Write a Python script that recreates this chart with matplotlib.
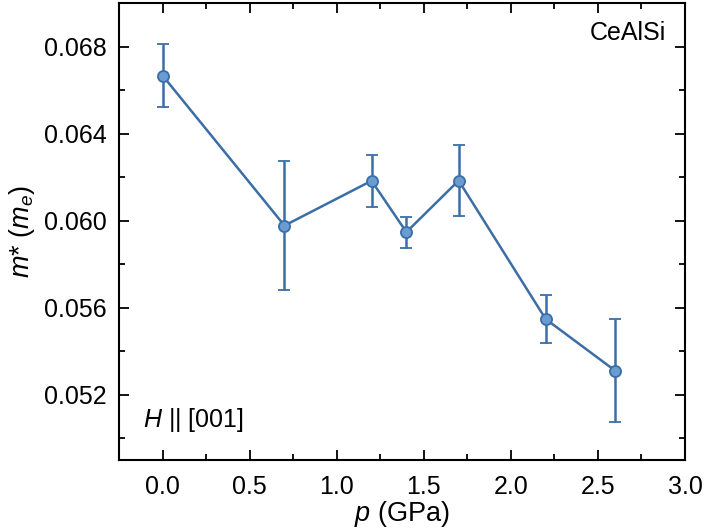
import matplotlib
matplotlib.use("Agg")
import matplotlib.pyplot as plt
from matplotlib.ticker import MultipleLocator

# pressure (GPa) and effective mass (m_e) with error bar ends
p = [0.0, 0.7, 1.2, 1.4, 1.7, 2.2, 2.6]
m_eff = [0.06668, 0.05978, 0.06184, 0.05948, 0.06185, 0.05548, 0.05310]
err_top = [0.06814, 0.06277, 0.06303, 0.06017, 0.06349, 0.05660, 0.05547]
err_bot = [0.06524, 0.05683, 0.06063, 0.05874, 0.06023, 0.05438, 0.05073]

lower = [m - b for m, b in zip(m_eff, err_bot)]
upper = [t - m for m, t in zip(m_eff, err_top)]

plt.rcParams['font.family'] = ['Liberation Sans', 'DejaVu Sans']
plt.rcParams['mathtext.fontset'] = 'custom'
plt.rcParams['mathtext.it'] = 'Liberation Sans:italic'
plt.rcParams['mathtext.rm'] = 'Liberation Sans'

fig = plt.figure(figsize=(7.06, 5.31), dpi=100)
ax = fig.add_axes([0.1686, 0.1337, 0.8017, 0.860])

line_col = "#3b6ea5"
face_col = "#6a9bd2"
ax.errorbar(p, m_eff, yerr=[lower, upper], color=line_col, lw=1.8,
            marker="o", ms=8, mfc=face_col, mec=line_col, mew=1.3,
            capsize=4.5, capthick=1.8, elinewidth=1.8)

ax.set_xlim(-0.25, 3.0)
ax.set_ylim(0.049, 0.070)
ax.xaxis.set_major_locator(MultipleLocator(0.5))
ax.xaxis.set_minor_locator(MultipleLocator(0.25))
ax.yaxis.set_major_locator(MultipleLocator(0.004))
ax.yaxis.set_minor_locator(MultipleLocator(0.002))
ax.tick_params(which="both", direction="in", top=True, right=True,
               width=1.3, labelsize=18)
ax.tick_params(axis="x", which="major", length=7, pad=11)
ax.tick_params(axis="y", which="major", length=7, pad=9)
ax.tick_params(which="minor", length=4)
for s in ax.spines.values():
    s.set_linewidth(1.5)

ax.set_xlabel(r"$p$ (GPa)", fontsize=19.5, labelpad=0)
ax.set_ylabel(r"$m$* ($m_e$)", fontsize=19.5, labelpad=5)

ax.text(0.966, 0.92, "CeAlSi", transform=ax.transAxes, ha="right",
        va="baseline", fontsize=18)
ax.text(0.042, 0.072, r"$H$ || [001]", transform=ax.transAxes, ha="left",
        va="baseline", fontsize=18)

fig.savefig("out.png", dpi=100)
